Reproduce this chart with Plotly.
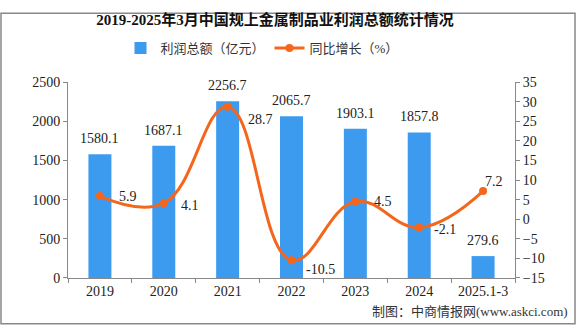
import plotly.graph_objects as go

categories = ["2019", "2020", "2021", "2022", "2023", "2024", "2025.1-3"]
profit = [1580.1, 1687.1, 2256.7, 2065.7, 1903.1, 1857.8, 279.6]
growth = [5.9, 4.1, 28.7, -10.5, 4.5, -2.1, 7.2]
# label offsets (pixels) for the growth labels
growth_dx = [17, 15, 18, 12, 17, 13, 0]
growth_dy = [0, -2, -13, -9, 0, -2, 10]

FONT = "Liberation Serif, Noto Sans CJK SC, serif"
W, H = 576, 327
L, R, T, B = 68, 61, 73, 49
pw, ph = W - L - R, H - T - B

fig = go.Figure()
fig.add_trace(go.Bar(
    x=categories, y=profit, name="利润总额（亿元）",
    marker=dict(color="#3D9BEF", line=dict(width=0)), width=0.36,
))
fig.add_trace(go.Scatter(
    x=categories, y=growth, name="同比增长（%）", yaxis="y2",
    mode="lines+markers",
    line=dict(color="#F4661B", width=3, shape="spline", smoothing=1.2),
    marker=dict(color="#F4661B", size=8),
    cliponaxis=False,
))

for i, v in enumerate(profit):
    fig.add_annotation(x=i, y=v, xref="x", yref="y", text=f"{v:.1f}",
                       showarrow=False, yanchor="bottom", yshift=6,
                       font=dict(size=14, color="#222222", family=FONT))
for i, (v, dx, dy) in enumerate(zip(growth, growth_dx, growth_dy)):
    fig.add_annotation(x=i, y=v, xref="x", yref="y2", text=f"{v:.1f}",
                       showarrow=False, xanchor="left", yanchor="middle",
                       xshift=dx, yshift=dy,
                       font=dict(size=14, color="#222222", family=FONT))

axis_common = dict(showgrid=False, zeroline=False, showline=True,
                   linecolor="#888888", linewidth=1, ticks="outside",
                   ticklen=4, tickcolor="#888888",
                   tickfont=dict(size=14, color="#222222", family=FONT))

fig.update_layout(
    width=W, height=H,
    margin=dict(l=L, r=R, t=T, b=B),
    paper_bgcolor="white", plot_bgcolor="white",
    title=dict(text="<b>2019-2025年3月中国规上金属制品业利润总额统计情况</b>",
               x=275 / W, xanchor="center", xref="container",
               y=1 - 20 / H, yanchor="middle",
               font=dict(size=15, color="#111111", family=FONT)),
    legend=dict(orientation="h", x=262 / W, xanchor="center", xref="container",
                y=1 - 48 / H, yanchor="middle", yref="container",
                font=dict(size=13, color="#333333", family=FONT),
                bgcolor="rgba(0,0,0,0)"),
    xaxis=dict(**axis_common, type="category", tickson="boundaries",
               tickangle=0, range=[-0.5, len(categories) - 0.5]),
    yaxis=dict(**axis_common, range=[0, 2500], dtick=500),
    yaxis2=dict(**axis_common, overlaying="y", side="right",
                range=[-15, 35], dtick=5),
    showlegend=True,
)

fig.add_shape(type="rect", xref="paper", yref="paper",
              x0=(1 - L) / pw, x1=(575 - L) / pw,
              y0=(H - B - 326) / ph, y1=(H - B - 1) / ph,
              line=dict(color="#888888", width=1.5), layer="below")

fig.add_annotation(text="制图：中商情报网(www.askci.com)",
                   xref="paper", yref="paper",
                   x=(570 - L) / pw, xanchor="right",
                   y=(H - B - 313) / ph, yanchor="middle",
                   showarrow=False,
                   font=dict(size=13, color="#333333", family=FONT))

fig.write_html("out.html")
